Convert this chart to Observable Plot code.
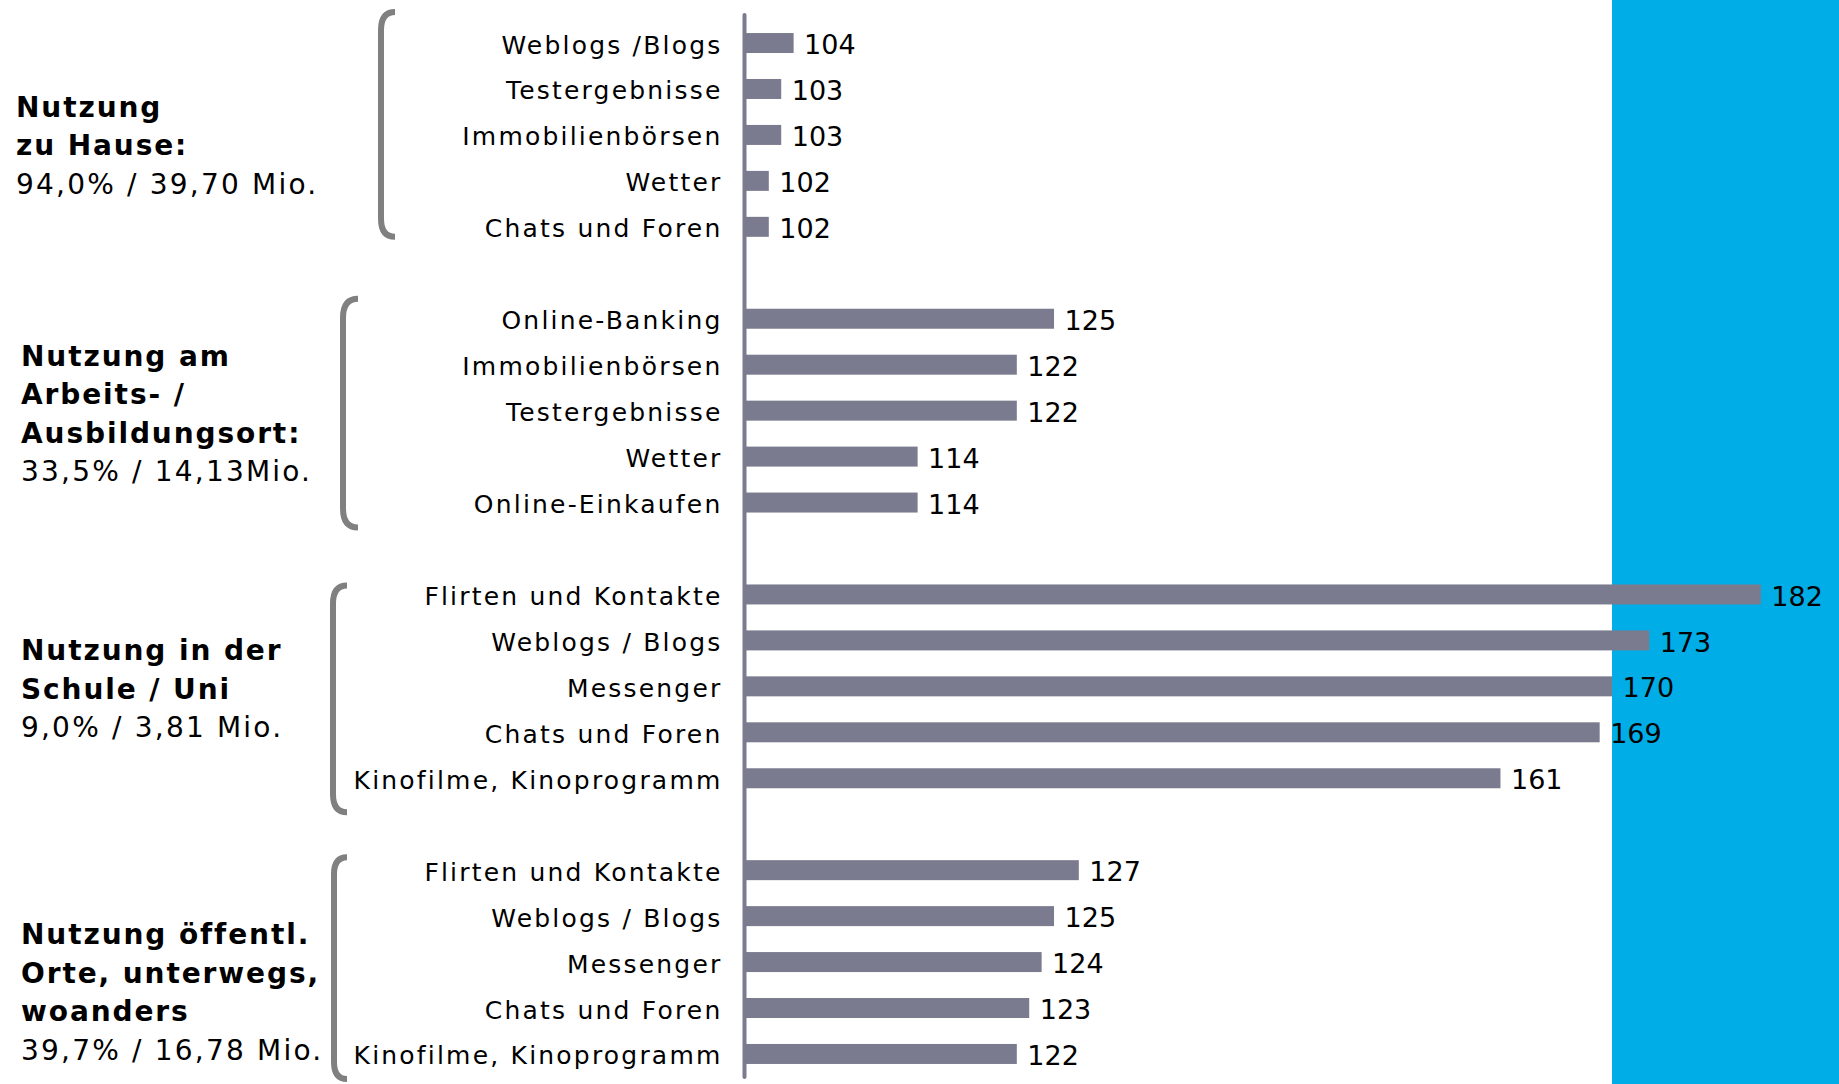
<!DOCTYPE html>
<html>
<head>
<meta charset="utf-8">
<script src="https://cdn.jsdelivr.net/npm/d3@7"></script>
<script src="https://cdn.jsdelivr.net/npm/@observablehq/plot@0.6"></script>
<style>
  html, body { margin: 0; padding: 0; background: #ffffff; }
  #wrap { position: relative; width: 1839px; height: 1084px; overflow: hidden; }
  #panel { position: absolute; left: 1612px; top: 0; width: 227px; height: 1084px; background: #00ade6; }
  #chart { position: absolute; left: 0; top: 0; }
</style>
</head>
<body>
<div id="wrap"><div id="panel"></div><div id="chart"></div></div>
<script>
// ---------- data ----------
const homeLabels   = ["Weblogs /Blogs", "Testergebnisse", "Immobilienbörsen", "Wetter", "Chats und Foren"];
const homeValues   = [104, 103, 103, 102, 102];
const workLabels   = ["Online-Banking", "Immobilienbörsen", "Testergebnisse", "Wetter", "Online-Einkaufen"];
const workValues   = [125, 122, 122, 114, 114];
const schoolLabels = ["Flirten und Kontakte", "Weblogs / Blogs", "Messenger", "Chats und Foren", "Kinofilme, Kinoprogramm"];
const schoolValues = [182, 173, 170, 169, 161];
const publicLabels = ["Flirten und Kontakte", "Weblogs / Blogs", "Messenger", "Chats und Foren", "Kinofilme, Kinoprogramm"];
const publicValues = [127, 125, 124, 123, 122];

const groupTitles = [
  ["Nutzung", "zu Hause:"],
  ["Nutzung am", "Arbeits- /", "Ausbildungsort:"],
  ["Nutzung in der", "Schule / Uni"],
  ["Nutzung öffentl.", "Orte, unterwegs,", "woanders"]
];
const groupSubtitles = ["94,0% / 39,70 Mio.", "33,5% / 14,13Mio.", "9,0% / 3,81 Mio.", "39,7% / 16,78 Mio."];

const baseValue = 100;   // index baseline

// ---------- styles / layout ----------
const barColor = "#7b7b8f";
const bracketColor = "#808080";
const fontFamily = "'DejaVu Sans', Verdana, sans-serif";
// bracket: vertical stroke x, right end x, extension above first / below last row centre
const bracketLayout = [
  { x: 381, end: 395, top: -31, bottom: 10 },
  { x: 343, end: 358, top: -20, bottom: 25 },
  { x: 333, end: 347, top: -9,  bottom: 34 },
  { x: 334, end: 347, top: -13, bottom: 25 }
];
// title block: left x, first baseline relative to the middle row centre
const titleLayout = [
  { x: 16, first: -18 },
  { x: 21, first: -45 },
  { x: 21, first: -26 },
  { x: 21, first: -18 }
];
const titleLineHeight = 38.5;

// ---------- build rows ----------
const groups = [
  [homeLabels, homeValues],
  [workLabels, workValues],
  [schoolLabels, schoolValues],
  [publicLabels, publicValues]
];
const rows = [];
const domain = [];
const labelOf = {};
groups.forEach(([labels, values], g) => {
  if (g > 0) domain.push("gap" + g);
  labels.forEach((label, i) => {
    const key = g + "-" + i;
    rows.push({ key, label, value: values[i], group: g });
    domain.push(key);
    labelOf[key] = label;
  });
});

// ---------- decorations (brackets + group titles) ----------
function decorations(index, scales) {
  const y = scales.y;
  const bw = y.bandwidth ? y.bandwidth() : 0;
  const cy = k => y(k) + bw / 2;
  const g = d3.create("svg:g").attr("aria-label", "group annotations");
  groups.forEach(([labels], gi) => {
    const keys = labels.map((_, i) => gi + "-" + i);
    const b = bracketLayout[gi];
    const top = cy(keys[0]) + b.top;
    const bot = cy(keys[keys.length - 1]) + b.bottom;
    const r = b.end - b.x;
    g.append("path")
      .attr("d", `M${b.end},${top} Q${b.x},${top} ${b.x},${top + r + 4} L${b.x},${bot - r - 4} Q${b.x},${bot} ${b.end},${bot}`)
      .attr("fill", "none")
      .attr("stroke", bracketColor)
      .attr("stroke-width", 6);

    const t = titleLayout[gi];
    const mid = cy(keys[2]);
    const text = g.append("text")
      .attr("x", t.x)
      .attr("y", mid + t.first)
      .attr("text-anchor", "start")
      .attr("font-family", fontFamily)
      .attr("font-size", 28)
      .attr("fill", "#000");
    groupTitles[gi].forEach((line, li) => {
      text.append("tspan")
        .attr("x", t.x)
        .attr("y", mid + t.first + li * titleLineHeight)
        .attr("font-weight", "bold")
        .attr("letter-spacing", 1.9)
        .text(line);
    });
    text.append("tspan")
      .attr("x", t.x)
      .attr("y", mid + t.first + groupTitles[gi].length * titleLineHeight)
      .attr("letter-spacing", 2.2)
      .text(groupSubtitles[gi]);
  });
  return g.node();
}

const chart = Plot.plot({
  width: 1839,
  height: 1084,
  marginLeft: 744,
  marginRight: 0,
  marginTop: 13,
  marginBottom: 0,
  style: { fontFamily, fontSize: "25px", background: "transparent", color: "#000" },
  x: { domain: [baseValue, 188.3], axis: null },
  y: { domain, paddingInner: 0.565, paddingOuter: 0.436, align: 0.5, round: false, label: null },
  marks: [
    Plot.axisY({ tickSize: 0, tickPadding: 22, dy: 2, tickFormat: k => labelOf[k] || "", fontSize: 25, fill: "#000", label: null }),
    Plot.barX(rows, { x1: () => baseValue, x2: "value", y: "key", fill: barColor }),
    Plot.text(rows, { x: "value", y: "key", text: d => String(d.value), dx: 10, dy: 2, textAnchor: "start", fontSize: 27, fill: "#000" }),
    Plot.ruleX([baseValue], { stroke: barColor, strokeWidth: 4, strokeLinecap: "round", insetTop: 2, insetBottom: 7 }),
    decorations
  ]
});

d3.select(chart).selectAll('g[aria-label="y-axis tick label"] text').attr("letter-spacing", 2.2);
document.getElementById("chart").appendChild(chart);
</script>
</body>
</html>
